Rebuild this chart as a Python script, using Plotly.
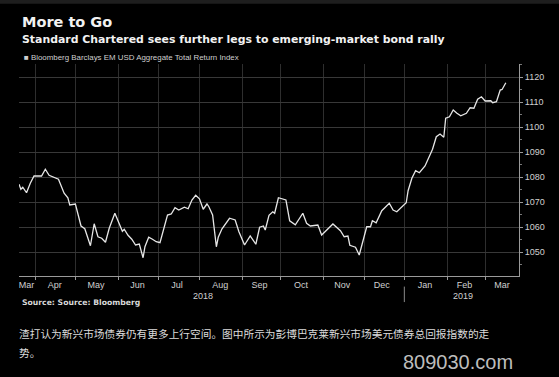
import plotly.graph_objects as go

# ---- data ----
dates = [
    "2018-03-20", "2018-03-21", "2018-03-22", "2018-03-26", "2018-03-28", "2018-03-30",
    "2018-04-05", "2018-04-09", "2018-04-11", "2018-04-13", "2018-04-18", "2018-04-23",
    "2018-04-25", "2018-04-26", "2018-05-01", "2018-05-04", "2018-05-08", "2018-05-11",
    "2018-05-15", "2018-05-17", "2018-05-21", "2018-05-23", "2018-05-25", "2018-05-30",
    "2018-06-01", "2018-06-05", "2018-06-06", "2018-06-08", "2018-06-12", "2018-06-14",
    "2018-06-18", "2018-06-20", "2018-06-21", "2018-06-25", "2018-06-27", "2018-06-29",
    "2018-07-03", "2018-07-05", "2018-07-09", "2018-07-11", "2018-07-13", "2018-07-17",
    "2018-07-20", "2018-07-24", "2018-07-26", "2018-07-30", "2018-08-01", "2018-08-03",
    "2018-08-07", "2018-08-08", "2018-08-10", "2018-08-14", "2018-08-15", "2018-08-17",
    "2018-08-23", "2018-08-28", "2018-08-30", "2018-09-04", "2018-09-07", "2018-09-12",
    "2018-09-14", "2018-09-18", "2018-09-19", "2018-09-21", "2018-09-25", "2018-09-26",
    "2018-09-28", "2018-10-04", "2018-10-08", "2018-10-11", "2018-10-17", "2018-10-19",
    "2018-10-23", "2018-10-29", "2018-10-31", "2018-11-08", "2018-11-14", "2018-11-16",
    "2018-11-20", "2018-11-21", "2018-11-26", "2018-11-28", "2018-11-30", "2018-12-04",
    "2018-12-06", "2018-12-07", "2018-12-11", "2018-12-14", "2018-12-20", "2018-12-24",
    "2018-12-26", "2019-01-02", "2019-01-03", "2019-01-07", "2019-01-09", "2019-01-11",
    "2019-01-16", "2019-01-18", "2019-01-22", "2019-01-24", "2019-01-28", "2019-01-30",
    "2019-01-31", "2019-02-04", "2019-02-06", "2019-02-08", "2019-02-12", "2019-02-15",
    "2019-02-19", "2019-02-21", "2019-02-25", "2019-02-27", "2019-03-01", "2019-03-06",
    "2019-03-07", "2019-03-11", "2019-03-13", "2019-03-14", "2019-03-18",
]
index_values = [
    1077.1, 1075.1, 1075.9, 1073.7, 1077.5, 1080.4,
    1080.4, 1083.1, 1080.7, 1080.1, 1079.1, 1073.5,
    1071.7, 1068.8, 1069.2, 1060.4, 1059.3, 1052.5,
    1061.3, 1056.1, 1055.5, 1053.9, 1059.5, 1065.5,
    1061.5, 1058.3, 1059.1, 1056.7, 1055.1, 1052.8,
    1053.2, 1047.7, 1052.1, 1055.9, 1055.1, 1054.1,
    1053.7, 1058.8, 1064.8, 1065.2, 1067.7, 1066.8,
    1067.9, 1067.3, 1070.8, 1072.7, 1071.3, 1067.1,
    1069.2, 1068.1, 1064.8, 1052.1, 1055.9, 1059.3,
    1063.5, 1062.8, 1058.1, 1052.8, 1056.4, 1053.1,
    1059.9, 1060.4, 1058.8, 1064.7, 1066.1, 1065.5,
    1071.7, 1070.8, 1062.5, 1060.9, 1065.5, 1061.5,
    1060.4, 1060.8, 1056.8, 1061.2, 1058.5, 1056.1,
    1056.4, 1052.7, 1051.9, 1048.8, 1054.8, 1060.1,
    1060.1, 1062.5, 1061.7, 1066.5, 1069.5, 1066.8,
    1066.1, 1069.7, 1074.5, 1079.5, 1082.5, 1081.7,
    1084.4, 1087.9, 1091.1, 1096.1, 1097.2, 1095.9,
    1103.5, 1104.1, 1106.8, 1105.5, 1104.5, 1105.5,
    1107.7, 1107.5, 1111.1, 1112.1, 1110.4, 1110.5,
    1109.7, 1110.1, 1114.8, 1115.0, 1117.7,
]
month_label_dates = [
    "2018-03-26", "2018-04-16", "2018-05-16", "2018-06-15", "2018-07-16", "2018-08-16",
    "2018-09-14", "2018-10-16", "2018-11-15", "2018-12-14", "2019-01-16", "2019-02-14",
    "2019-03-14",
]
month_labels = ["Mar", "Apr", "May", "Jun", "Jul", "Aug", "Sep", "Oct", "Nov", "Dec",
                "Jan", "Feb", "Mar"]
month_starts = [
    "2018-04-02", "2018-05-01", "2018-06-01", "2018-07-02", "2018-08-01", "2018-09-03",
    "2018-10-01", "2018-11-01", "2018-12-03", "2019-01-01", "2019-02-01", "2019-03-01",
]
year_labels = ["2018", "2019"]
year_label_dates = ["2018-08-03", "2019-02-13"]
year_break_date = "2019-01-01"
x_range = ["2018-03-20", "2019-03-27"]
y_range = [1040.4, 1125.2]

title = "More to Go"
subtitle = "Standard Chartered sees further legs to emerging-market bond rally"
series_name = "Bloomberg Barclays EM USD Aggregate Total Return Index"
source = "Source: Source: Bloomberg"
caption_1 = "渣打认为新兴市场债券仍有更多上行空间。图中所示为彭博巴克莱新兴市场美元债券总回报指数的走"
caption_2 = "势。"
watermark = "809030.com"

SANS = "Liberation Sans, Arial, sans-serif"
BOLD = "DejaVu Sans, Verdana, sans-serif"
CJK = "Noto Sans CJK SC, sans-serif"

fig = go.Figure()
fig.add_trace(go.Scatter(
    x=dates, y=index_values, mode="lines", name=series_name,
    line=dict(color="#e6e6e6", width=1.3), showlegend=False,
))

fig.update_layout(
    width=559, height=377,
    margin=dict(l=19, r=40, t=64, b=101),
    paper_bgcolor="#000000", plot_bgcolor="#000000",
    font=dict(family=SANS, color="#d0d0d0", size=9),
    xaxis=dict(
        type="date", range=x_range,
        rangebreaks=[dict(bounds=["sat", "mon"])],
        tickmode="array", tickvals=month_label_dates, ticktext=month_labels,
        ticks="", showgrid=False, zeroline=False,
        showline=True, linecolor="#9a9a9a", linewidth=1,
        tickfont=dict(family=SANS, size=9, color="#d0d0d0"),
        minor=dict(tickmode="array", tickvals=month_starts, showgrid=True,
                   gridcolor="#2e2e2e", gridwidth=1, ticks="outside", ticklen=3,
                   tickcolor="#9a9a9a"),
    ),
    yaxis=dict(
        side="right", range=y_range, tick0=1050, dtick=10,
        showgrid=True, gridcolor="#383838", gridwidth=1, zeroline=False,
        showline=True, linecolor="#9a9a9a", linewidth=1,
        ticks="outside", ticklen=3, tickcolor="#9a9a9a",
        tickfont=dict(family=SANS, size=9, color="#d0d0d0"),
        minor=dict(dtick=5, ticks="outside", ticklen=2, tickcolor="#777777"),
    ),
)

# top strip
fig.add_shape(type="rect", xref="paper", yref="paper", x0=-0.05, x1=1.1,
              y0=1.284, y1=1.31, fillcolor="#1e1e1e", line=dict(width=0), layer="below")

# year separator tick
fig.add_shape(type="line", xref="x", yref="paper", x0=year_break_date, x1=year_break_date,
              y0=-0.05, y1=-0.123, line=dict(color="#8a8a8a", width=1))

ann = []
ann.append(dict(text="<b>" + title + "</b>", x=0.002, y=1.198, xref="paper", yref="paper",
                xanchor="left", yanchor="middle", showarrow=False,
                font=dict(family=BOLD, size=14.5, color="#f2f2f2")))
ann.append(dict(text="<b>" + subtitle + "</b>", x=0.002, y=1.117, xref="paper", yref="paper",
                xanchor="left", yanchor="middle", showarrow=False,
                font=dict(family=BOLD, size=10.9, color="#f2f2f2")))
ann.append(dict(text="■ " + series_name, x=0.006, y=1.033, xref="paper", yref="paper",
                xanchor="left", yanchor="middle", showarrow=False,
                font=dict(family=SANS, size=7.9, color="#cfcfcf")))
for lbl, d in zip(year_labels, year_label_dates):
    ann.append(dict(text=lbl, x=d, y=-0.095, xref="x", yref="paper",
                    xanchor="center", yanchor="middle", showarrow=False,
                    font=dict(family=SANS, size=9, color="#d0d0d0")))
ann.append(dict(text="<b>" + source + "</b>", x=0.002, y=-0.127, xref="paper", yref="paper",
                xanchor="left", yanchor="middle", showarrow=False,
                font=dict(family=BOLD, size=7.7, color="#d8d8d8")))
ann.append(dict(text=caption_1, x=-0.004, y=-0.269, xref="paper", yref="paper",
                xanchor="left", yanchor="middle", showarrow=False,
                font=dict(family=CJK, size=10.7, color="#dcdcdc")))
ann.append(dict(text=caption_2, x=-0.004, y=-0.363, xref="paper", yref="paper",
                xanchor="left", yanchor="middle", showarrow=False,
                font=dict(family=CJK, size=10.7, color="#dcdcdc")))
ann.append(dict(text=watermark, x=0.992, y=-0.406, xref="paper", yref="paper",
                xanchor="right", yanchor="middle", showarrow=False,
                font=dict(family=SANS, size=20, color="#bdbdbd")))
fig.update_layout(annotations=ann)

fig.write_html(
    "out.html",
    config={"displayModeBar": False},
    post_script="document.body.style.margin='0';document.body.style.background='#000';",
)
